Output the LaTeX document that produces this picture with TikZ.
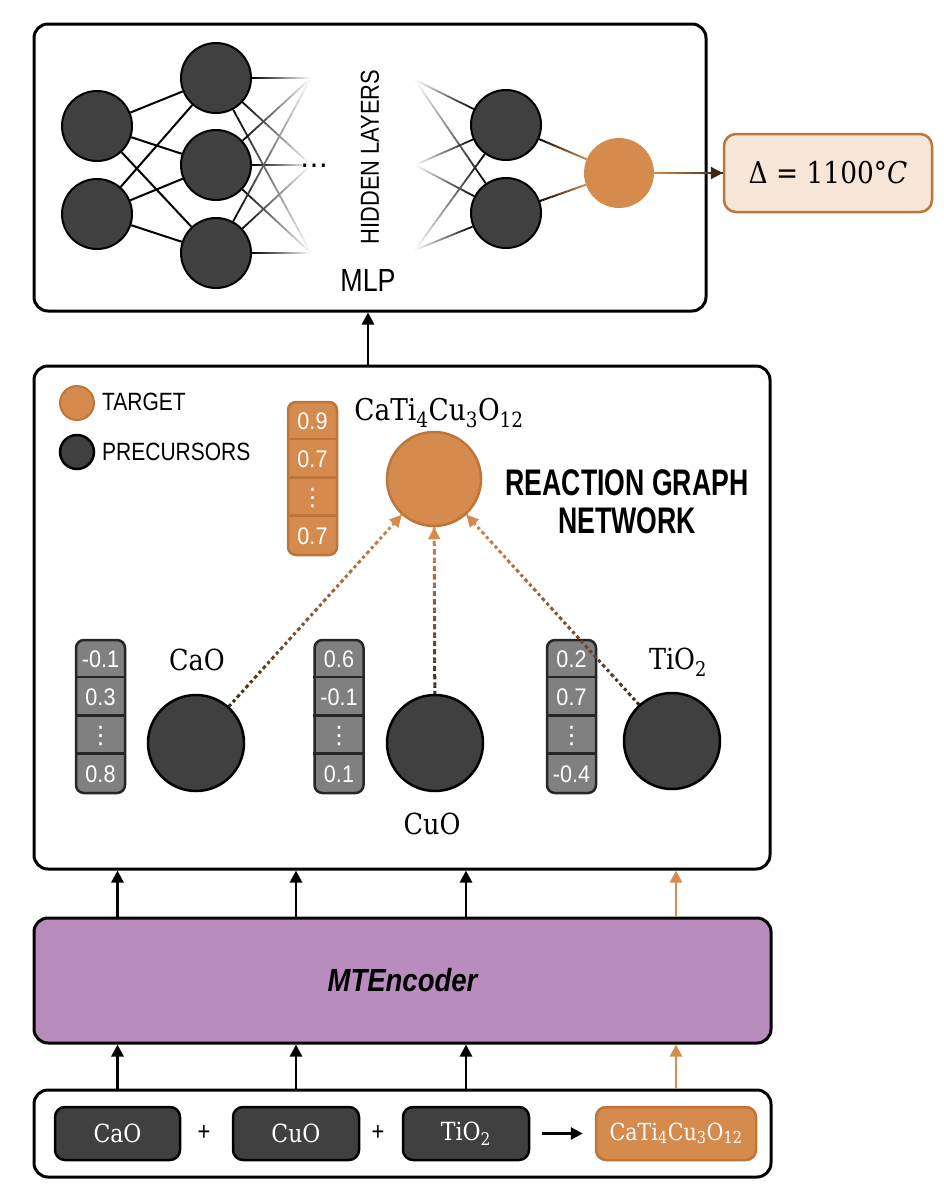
\documentclass[tikz,border=0pt]{standalone}
\usepackage{fontspec}
\usetikzlibrary{arrows.meta,calc}
\newfontfamily\labf[FakeStretch=0.84]{Liberation Sans}
\newfontfamily\rgnf[FakeStretch=0.72]{Liberation Sans}
\newfontfamily\encf[FakeStretch=0.86]{Liberation Sans}
\newfontfamily\numf[FakeStretch=0.9]{Liberation Sans}
\newfontfamily\djv{DejaVu Sans}
\newfontfamily\chemf[FakeStretch=0.88]{DejaVu Serif}
\definecolor{dk}{HTML}{404040}
\definecolor{org}{HTML}{D68B4E}
\definecolor{orgb}{HTML}{BF7438}
\definecolor{peach}{HTML}{F6E6D8}
\definecolor{purp}{HTML}{B88CBD}
\definecolor{vgray}{HTML}{808080}
\definecolor{brn}{HTML}{3B2614}
\newcommand\gline[5]{%
  \path (#1) -- coordinate[pos=0] (gA) coordinate[pos=1] (gB) (#2);
  \foreach \k in {0,...,19}{%
    \pgfmathsetmacro\ta{\k/20}%
    \pgfmathsetmacro\tb{(\k+1)/20}%
    \pgfmathsetmacro\pc{100-(\k+0.5)*5}%
    \draw[#5,color=#3!\pc!#4] ($(gA)!\ta!(gB)$) -- ($(gA)!\tb!(gB)$);
  }}
\newcommand\vect[8]{%
  \node[draw=#5,fill=#4,line width=2.5pt,rounded corners=8pt,minimum width=49pt,minimum height=153pt,inner sep=0pt] (#1) at (#2,#3+76.5) {};
  \foreach \q in {1,2,3} \draw[#5,line width=2.5pt] ($(#1.north west)+(0,\q*38.25)$) -- ($(#1.north east)+(0,\q*38.25)$);
  \node[vnum] (#1a) at (#2,#3+19.1) {#6};
  \node[vnum] (#1b) at (#2,#3+57.4) {#7};
  \node[vnum,font=\djv\fontsize{24}{24}\selectfont] (#1c) at (#2,#3+95.6) {⋮};
  \node[vnum] (#1d) at (#2,#3+133.9) {#8};
}
\newcommand\tgt{CaTi\textsubscript{4}Cu\textsubscript{3}O\textsubscript{12}}
\begin{document}
\begin{tikzpicture}[x=1pt,y=-1pt,
  arr/.style={line width=2.8pt,-{Triangle[length=12pt,width=12pt]}},
  box/.style={draw,line width=3pt,rounded corners=14pt,inner sep=0pt},
  neur/.style={circle,fill=dk,draw=black,line width=2pt,minimum size=70pt,inner sep=0pt},
  pnode/.style={circle,fill=dk,draw=black,line width=2.5pt,minimum size=96pt,inner sep=0pt},
  chem/.style={font=\chemf\fontsize{29}{30}\selectfont,inner sep=0pt},
  chip/.style={draw=black,fill=dk,line width=2.5pt,rounded corners=10pt,minimum height=53pt,text=white,font=\chemf\fontsize{25}{28}\selectfont,inner sep=0pt},
  lbl/.style={font=\labf\fontsize{25}{28}\selectfont,inner sep=0pt},
  vnum/.style={text=white,font=\numf\fontsize{24}{26}\selectfont,inner sep=0pt},
]
\useasboundingbox (0,0) rectangle (944,1200);
% ---------------- MLP ----------------
\node[box,minimum width=672pt,minimum height=287pt] (mlp) at (370,167.5) {};
\node[neur] (a1) at (97,126) {};
\node[neur] (a2) at (97,214) {};
\node[neur] (b1) at (216,78) {};
\node[neur] (b2) at (216,165) {};
\node[neur] (b3) at (216,253) {};
\coordinate (f1) at (311,78);
\coordinate (f2) at (311,165);
\coordinate (f3) at (311,253);
\coordinate (g1) at (415,80);
\coordinate (g2) at (415,165);
\coordinate (g3) at (415,250);
\node[neur] (r1) at (506,125) {};
\node[neur] (r2) at (506,213) {};
\node[circle,fill=org,minimum size=70pt,inner sep=0pt] (o) at (619,173) {};
\foreach \i in {a1,a2} \foreach \j in {b1,b2,b3} \draw[line width=2pt] (\i) -- (\j);
\foreach \i in {b1,b2,b3} \foreach \j in {f1,f2,f3} {\gline{\i}{\j}{black}{white}{line width=1.8pt}}
\foreach \i in {g1,g2,g3} \foreach \j in {r1,r2} {\gline{\i}{\j}{white}{black}{line width=1.8pt}}
\gline{r1}{o}{black}{org}{line width=2pt}
\gline{r2}{o}{black}{org}{line width=2pt}
\node[draw=orgb,fill=peach,line width=2.5pt,rounded corners=12pt,minimum width=208pt,minimum height=78pt,inner sep=0pt,font=\chemf\fontsize{30}{32}\selectfont] (out) at (828,173) {Δ = 1100°\textit{C}};
\gline{o}{out}{org}{brn}{line width=2.2pt}
\draw[-{Triangle[length=12pt,width=12pt]},line width=2.2pt,brn] ($(gB)!13pt!(gA)$) -- (gB);
\node[font=\djv\fontsize{28}{28}\selectfont] (dots) at (314,166) {…};
\node[font=\labf\fontsize{26}{28}\selectfont,rotate=90] (hid) at (370,157) {HIDDEN LAYERS};
\node[font=\labf\fontsize{32}{34}\selectfont] (mlpt) at (368,280) {MLP};
% ---------------- Reaction graph ----------------
\node[box,minimum width=736pt,minimum height=503pt] (mid) at (402,617.5) {};
\draw[arr] (mid.north -| mlpt) -- (mlp.south -| mlpt);
\node[circle,fill=org,draw=orgb,line width=2pt,minimum size=34pt,inner sep=0pt] (lt) at (77,403) {};
\node[lbl,anchor=west] (ltt) at (102,402) {TARGET};
\node[circle,fill=dk,draw=black,line width=2.5pt,minimum size=34pt,inner sep=0pt] (lp) at (77,452) {};
\node[lbl,anchor=west] (lpt) at (102,452) {PRECURSORS};
\vect{tv}{312.5}{402}{org}{orgb}{0.9}{0.7}{0.7}
\node[circle,fill=org,draw=orgb,line width=2.5pt,minimum size=94pt,inner sep=0pt] (T) at (434,479) {};
\node[chem,anchor=base,font=\chemf\fontsize{30}{30}\selectfont] (Tl) at (439,420) {\tgt};
\node[font=\rgnf\bfseries\fontsize{37}{38}\selectfont,align=center] (rgn) at (627,502) {REACTION GRAPH\\NETWORK};
\vect{v1}{100.5}{640}{vgray}{black!85}{-0.1}{0.3}{0.8}
\vect{v2}{339}{640}{vgray}{black!85}{0.6}{-0.1}{0.1}
\vect{v3}{571.5}{640}{vgray}{black!85}{0.2}{0.7}{-0.4}
\node[pnode] (cao) at (196,743) {};
\node[pnode] (cuo) at (435,743) {};
\node[pnode] (tio) at (672,741) {};
\node[chem] (caol) at (197,660) {CaO};
\node[chem] (cuol) at (432,824) {CuO};
\node[chem] (tiol) at (678,662) {TiO\textsubscript{2}};
\foreach \p in {cao,cuo,tio}{
  \gline{\p}{T}{brn}{org}{line width=3pt,dash pattern=on 3pt off 3pt}
  \draw[-{Triangle[length=12pt,width=12pt]},org,line width=2pt] ($(gB)!12pt!(gA)$) -- (gB);
}
% ---------------- Encoder and input ----------------
\node[box,fill=purp,minimum width=737pt,minimum height=125pt,font=\encf\bfseries\itshape\fontsize{32}{34}\selectfont] (enc) at (402.5,980.5) {MTEncoder};
\node[box,minimum width=737pt,minimum height=87pt] (bot) at (402.5,1133.5) {};
\node[chip,minimum width=125pt] (c1) at (117.5,1133.5) {CaO};
\node[chip,minimum width=126pt] (c2) at (296,1133.5) {CuO};
\node[chip,minimum width=126pt] (c3) at (466,1133.5) {TiO\textsubscript{2}};
\node[chip,fill=org,draw=orgb,minimum width=160pt,font=\chemf\fontsize{23.5}{26}\selectfont] (c4) at (676,1133.5) {\tgt};
\node[font=\labf\fontsize{26}{28}\selectfont] (p1) at (204,1133) {+};
\node[font=\labf\fontsize{26}{28}\selectfont] (p2) at (378,1133) {+};
\draw[arr,shorten <=12pt,shorten >=12pt] (c3) -- (c4);
\foreach \c in {c1,c2,c3}{
  \draw[arr] (bot.north -| \c) -- (enc.south -| \c);
  \draw[arr] (enc.north -| \c) -- (mid.south -| \c);
}
\draw[arr,org] (bot.north -| c4) -- (enc.south -| c4);
\draw[arr,org] (enc.north -| c4) -- (mid.south -| c4);
\end{tikzpicture}
\end{document}
